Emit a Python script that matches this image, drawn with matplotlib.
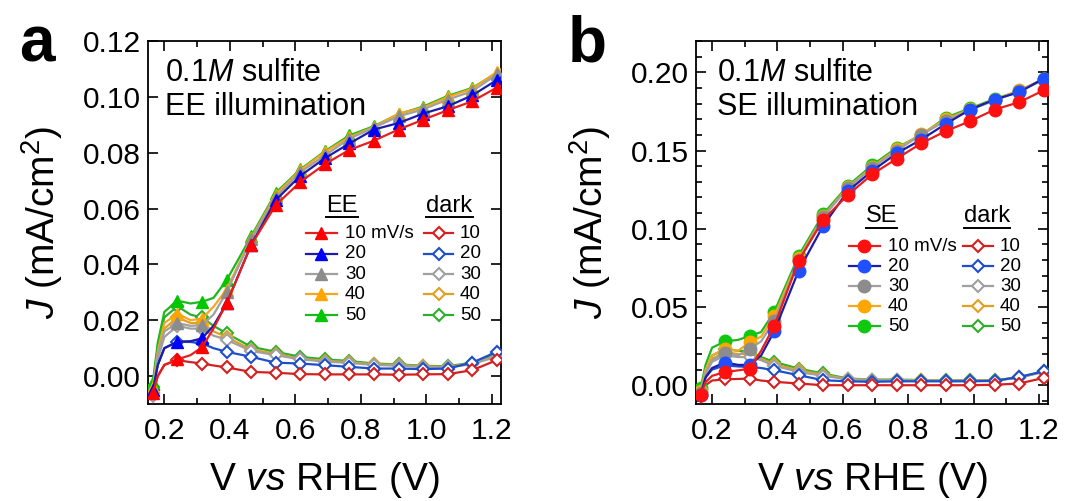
import matplotlib
matplotlib.use("Agg")
import matplotlib.pyplot as plt
from matplotlib.ticker import MultipleLocator, FormatStrFormatter

plt.rcParams['font.family'] = ['Liberation Sans', 'DejaVu Sans']
plt.rcParams['mathtext.fontset'] = 'custom'
plt.rcParams['mathtext.rm'] = 'Liberation Sans'
plt.rcParams['mathtext.it'] = 'Liberation Sans:italic'

# ---------------- data ----------------
scan_rates = ["10", "20", "30", "40", "50"]

# potential grid (V vs RHE); markers sit on every 0.075 V step
V = [0.165, 0.18, 0.20, 0.24, 0.28, 0.315, 0.35, 0.39, 0.465, 0.54, 0.615,
     0.69, 0.765, 0.84, 0.915, 0.99, 1.065, 1.14, 1.215, 1.23]
marker_idx = [0, 3, 5, 7, 8, 9, 10, 11, 12, 13, 14, 15, 16, 17, 18]

# panel a: EE illumination (mA/cm2)
ee_10 = [-0.006, 0.000, 0.004, 0.0060, 0.0075, 0.0103, 0.017, 0.026, 0.0469, 0.0612,
         0.0695, 0.0759, 0.0810, 0.0843, 0.0883, 0.0918, 0.0952, 0.0984, 0.1033, 0.1040]
ee_20 = [-0.005, 0.004, 0.010, 0.0123, 0.0125, 0.0135, 0.018, 0.026, 0.047, 0.063,
         0.0717, 0.078, 0.0833, 0.0883, 0.0906, 0.094, 0.0966, 0.1005, 0.106, 0.107]
ee_30 = [-0.005, 0.008, 0.016, 0.019, 0.018, 0.0182, 0.022, 0.030, 0.049, 0.064,
         0.073, 0.079, 0.085, 0.089, 0.093, 0.0955, 0.099, 0.102, 0.108, 0.109]
ee_40 = [-0.004, 0.009, 0.019, 0.0224, 0.020, 0.0206, 0.0248, 0.031, 0.0493, 0.065,
         0.0737, 0.0802, 0.0856, 0.0892, 0.094, 0.0961, 0.0999, 0.1029, 0.1089, 0.110]
ee_50 = [-0.002, 0.012, 0.023, 0.027, 0.026, 0.0266, 0.028, 0.0343, 0.050, 0.0656,
         0.074, 0.0805, 0.0862, 0.0895, 0.0938, 0.0965, 0.1003, 0.1032, 0.1085, 0.1095]

# panel a: dark
da_10 = [-0.006, 0.000, 0.004, 0.0057, 0.005, 0.0045, 0.0038, 0.0031, 0.0015, 0.0012,
         0.0007, 0.0006, 0.0006, 0.0006, 0.0005, 0.0006, 0.0007, 0.0021, 0.0057, 0.0065]
da_20 = [-0.005, 0.004, 0.010, 0.0123, 0.0122, 0.0117, 0.010, 0.0087, 0.0069, 0.0048,
         0.0045, 0.0039, 0.0033, 0.0027, 0.0027, 0.0025, 0.0027, 0.0048, 0.0087, 0.0095]
da_30 = [-0.007, 0.006, 0.014, 0.018, 0.017, 0.017, 0.0145, 0.013, 0.009, 0.0075,
         0.006, 0.0052, 0.0047, 0.004, 0.0037, 0.0033, 0.0031, 0.0043, 0.007, 0.0078]
da_40 = [-0.005, 0.008, 0.017, 0.021, 0.019, 0.019, 0.016, 0.014, 0.0095, 0.008,
         0.0062, 0.0055, 0.005, 0.0042, 0.004, 0.0035, 0.0033, 0.0045, 0.0072, 0.008]
da_50 = [-0.004, 0.010, 0.021, 0.025, 0.022, 0.021, 0.018, 0.0153, 0.0105, 0.0087,
         0.0069, 0.006, 0.0054, 0.0045, 0.0042, 0.0037, 0.0035, 0.0048, 0.0078, 0.0085]

# panel b: SE illumination (mA/cm2)
se_10 = [-0.006, 0.002, 0.006, 0.0085, 0.0095, 0.0106, 0.022, 0.0378, 0.0796, 0.1057,
         0.1215, 0.1348, 0.1448, 0.1546, 0.1624, 0.1688, 0.1762, 0.1809, 0.1885, 0.190]
se_20 = [-0.006, 0.005, 0.011, 0.0145, 0.013, 0.013, 0.019, 0.0344, 0.0733, 0.1019,
         0.124, 0.137, 0.1482, 0.157, 0.167, 0.1762, 0.1826, 0.1873, 0.196, 0.1975]
se_30 = [-0.005, 0.008, 0.016, 0.0205, 0.019, 0.0234, 0.028, 0.041, 0.080, 0.1075,
         0.126, 0.139, 0.150, 0.160, 0.169, 0.176, 0.182, 0.188, 0.195, 0.197]
se_40 = [-0.004, 0.010, 0.019, 0.0234, 0.022, 0.0276, 0.031, 0.044, 0.081, 0.108,
         0.1265, 0.1395, 0.151, 0.1605, 0.170, 0.1765, 0.1825, 0.1885, 0.1955, 0.1975]
se_50 = [-0.002, 0.013, 0.024, 0.028, 0.029, 0.0315, 0.034, 0.0467, 0.0828, 0.1094,
         0.1274, 0.1406, 0.1518, 0.160, 0.171, 0.177, 0.183, 0.188, 0.196, 0.198]

# panel b: dark
db_10 = [-0.0068, 0.000, 0.003, 0.0038, 0.004, 0.0043, 0.003, 0.0022, 0.0011, 0.0,
         0.0, 0.0, 0.0, 0.0, 0.0, 0.0, 0.0003, 0.0011, 0.0047, 0.0055]
db_20 = [-0.006, 0.005, 0.010, 0.0127, 0.012, 0.0117, 0.011, 0.0096, 0.0064, 0.0032,
         0.0025, 0.0022, 0.0025, 0.0025, 0.0025, 0.0025, 0.0028, 0.0053, 0.0089, 0.0095]
db_30 = [-0.007, 0.007, 0.015, 0.019, 0.018, 0.018, 0.016, 0.0125, 0.0085, 0.006,
         0.0038, 0.0032, 0.0032, 0.003, 0.003, 0.003, 0.003, 0.0048, 0.0085, 0.009]
db_40 = [-0.006, 0.008, 0.017, 0.021, 0.020, 0.020, 0.017, 0.0135, 0.0095, 0.0068,
         0.004, 0.0034, 0.0034, 0.0031, 0.003, 0.003, 0.003, 0.005, 0.0087, 0.0092]
db_50 = [-0.005, 0.009, 0.019, 0.023, 0.022, 0.0215, 0.018, 0.0149, 0.0106, 0.0075,
         0.0043, 0.0036, 0.0036, 0.0033, 0.0032, 0.0032, 0.0032, 0.005, 0.0088, 0.0095]

# ---------------- styles ----------------
light_line = ["#E3201F", "#1C1CA8", "#A0A0A0", "#F5A623", "#1DB81D"]
light_face = ["#FF0000", "#0000FF", "#8C8C8C", "#FFA500", "#00C800"]
circle_face = ["#FF1010", "#1F4FFF", "#8C8C8C", "#FFA500", "#10C810"]
dark_col = ["#D42020", "#1F4FC8", "#A0A0A0", "#E0A020", "#2EAE2E"]

LW = 1.6
FS_TICK = 21.5
FS_LABEL = 28

fig = plt.figure(figsize=(10.8, 5.01), dpi=100)
ax_a = fig.add_axes([0.1370, 0.1936, 0.3269, 0.7246])
ax_b = fig.add_axes([0.6442, 0.1936, 0.3262, 0.7246])


def draw_panel(ax, light, dark, marker, faces, msize):
    # dark scans first (50 -> 10), then illuminated (50 -> 10) so 10 mV/s sits on top
    for i in range(4, -1, -1):
        ax.plot(V, dark[i], color=dark_col[i], lw=LW, marker='D', ms=6.5,
                mfc='white', mec=dark_col[i], mew=1.5, markevery=marker_idx,
                zorder=3 + (4 - i) * 0.1)
    for i in range(4, -1, -1):
        ax.plot(V, light[i], color=light_line[i], lw=LW, marker=marker,
                ms=msize, mfc=faces[i], mec=faces[i],
                markevery=marker_idx, zorder=4 + (4 - i) * 0.1)


def style_axes(ax, ylim, ymajor, yminor, yfmt):
    ax.set_xlim(0.15, 1.228)
    ax.set_ylim(*ylim)
    ax.xaxis.set_major_locator(MultipleLocator(0.2))
    ax.xaxis.set_minor_locator(MultipleLocator(0.1))
    ax.yaxis.set_major_locator(MultipleLocator(ymajor))
    if yminor:
        ax.yaxis.set_minor_locator(MultipleLocator(yminor))
    ax.xaxis.set_major_formatter(FormatStrFormatter('%.1f'))
    ax.yaxis.set_major_formatter(FormatStrFormatter(yfmt))
    ax.tick_params(which='both', direction='in', top=True, right=True,
                   width=1.2, labelsize=FS_TICK)
    ax.tick_params(which='major', length=7)
    ax.tick_params(which='minor', length=4)
    ax.tick_params(axis='x', which='major', pad=9)
    ax.tick_params(axis='y', which='major', pad=5)
    for s in ax.spines.values():
        s.set_linewidth(1.3)
    ax.set_xlabel(r'V $\mathit{vs}$ RHE (V)', fontsize=FS_LABEL, labelpad=11)
    ax.set_ylabel(r'$\mathit{J}$ (mA/cm$^2$)', fontsize=FS_LABEL, labelpad=13)


draw_panel(ax_a, [ee_10, ee_20, ee_30, ee_40, ee_50],
           [da_10, da_20, da_30, da_40, da_50], '^', light_face, 8.5)
draw_panel(ax_b, [se_10, se_20, se_30, se_40, se_50],
           [db_10, db_20, db_30, db_40, db_50], 'o', circle_face, 9)

style_axes(ax_a, (-0.01, 0.12), 0.02, None, '%.2f')
style_axes(ax_b, (-0.012, 0.22), 0.05, 0.01, '%.2f')

# condition annotations
for ax, x0, mode in [(ax_a, 0.048, 'EE'), (ax_b, 0.060, 'SE')]:
    ax.text(x0, 0.890, r'0.1$\mathit{M}$ sulfite', transform=ax.transAxes,
            fontsize=22, va='baseline', ha='left')
    ax.text(x0, 0.797, f'{mode} illumination', transform=ax.transAxes,
            fontsize=22, va='baseline', ha='left')

# hand-built two-column legends
def build_legend(ax, header, h0, h1, tx, dh0, dh1, dtx, rows, hy, hx, dhx,
                 marker, faces, msize):
    headers = []
    headers.append(ax.text(hx, hy, header, transform=ax.transAxes, fontsize=17,
                           ha='center', va='baseline'))
    headers.append(ax.text(dhx, hy, 'dark', transform=ax.transAxes, fontsize=17,
                           ha='center', va='baseline'))
    for i, y in enumerate(rows):
        ax.plot([h0, h1], [y, y], transform=ax.transAxes, color=light_line[i],
                lw=LW, clip_on=False, zorder=6)
        ax.plot([(h0 + h1) / 2], [y], transform=ax.transAxes, marker=marker,
                ms=msize, color=faces[i], clip_on=False, zorder=7)
        ax.text(tx, y, scan_rates[i] + (' mV/s' if i == 0 else ''),
                transform=ax.transAxes, fontsize=13.5, va='center', ha='left')
        ax.plot([dh0, dh1], [y, y], transform=ax.transAxes, color=dark_col[i],
                lw=LW, clip_on=False, zorder=6)
        ax.plot([(dh0 + dh1) / 2], [y], transform=ax.transAxes, marker='D',
                ms=6.5, mfc='white', mec=dark_col[i], mew=1.5, clip_on=False,
                zorder=7)
        ax.text(dtx, y, scan_rates[i], transform=ax.transAxes, fontsize=13.5,
                va='center', ha='left')
    return headers


hdr_a = build_legend(ax_a, 'EE', 0.4476, 0.535, 0.558, 0.782, 0.864, 0.884,
                     [0.471, 0.414, 0.358, 0.302, 0.245], 0.529, 0.55, 0.854,
                     '^', light_face, 8.5)
hdr_b = build_legend(ax_b, 'SE', 0.435, 0.523, 0.546, 0.759, 0.844, 0.864,
                     [0.434, 0.379, 0.324, 0.269, 0.214], 0.500, 0.528, 0.828,
                     'o', circle_face, 9)

# underline the legend headers
fig.canvas.draw()
renderer = fig.canvas.get_renderer()
for ax, hdrs in [(ax_a, hdr_a), (ax_b, hdr_b)]:
    inv = ax.transAxes.inverted()
    for t in hdrs:
        bb = t.get_window_extent(renderer)
        (x0, _), (x1, _) = inv.transform([(bb.x0, bb.y0), (bb.x1, bb.y0)])
        _, yb = t.get_position()
        ax.plot([x0, x1], [yb - 0.014, yb - 0.014], transform=ax.transAxes,
                color='black', lw=1.4, clip_on=False)

# panel letters
fig.text(0.018, 0.878, 'a', fontsize=46, fontweight='bold', va='baseline')
fig.text(0.526, 0.878, 'b', fontsize=46, fontweight='bold', va='baseline')

fig.savefig('out.png', dpi=100)
